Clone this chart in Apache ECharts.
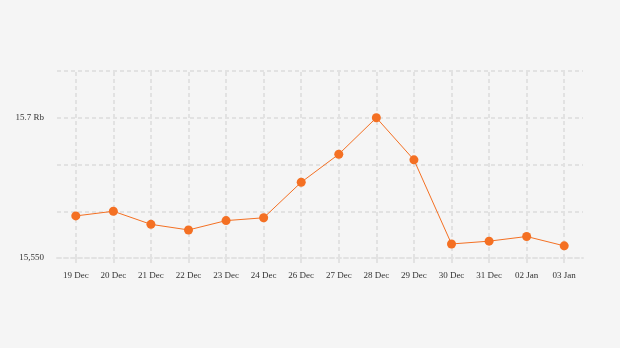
<!DOCTYPE html>
<html><head><meta charset="utf-8">
<script src="https://cdn.jsdelivr.net/npm/echarts@6/dist/echarts.min.js"></script>
<style>html,body{margin:0;padding:0;background:#f5f5f5;}#c{width:620px;height:348px;}</style>
</head><body><div id="c"></div>
<script>
const categories = ['19 Dec','20 Dec','21 Dec','22 Dec','23 Dec','24 Dec','26 Dec','27 Dec','28 Dec','29 Dec','30 Dec','31 Dec','02 Jan','03 Jan'];
const prices = [15595,15600,15586,15580,15590,15593,15631,15661,15700,15655,15565,15568,15573,15563];
const yLabels = {15550:'15,550', 15700:'15.7 Rb'};

const chart = echarts.init(document.getElementById('c'), null, {renderer:'canvas'});
const font = '"Liberation Serif", "DejaVu Serif", serif';
const gridColor = '#e2e2e2';
chart.setOption({
  backgroundColor:'#f5f5f5',
  animation:false,
  grid:{left:57,right:37,top:71,bottom:90},
  xAxis:{
    type:'category', data:categories, boundaryGap:true,
    axisLine:{show:true,lineStyle:{color:gridColor,width:2,type:[4,3]}},
    axisTick:{show:true,alignWithLabel:true,length:5,lineStyle:{color:gridColor,width:2}},
    splitLine:{show:false},
    axisLabel:{color:'#333',fontFamily:font,fontSize:9,margin:13}
  },
  yAxis:{
    type:'value', min:15550, max:15750, interval:50,
    axisLine:{show:false}, axisTick:{show:false},
    splitLine:{show:true,lineStyle:{color:gridColor,width:2,type:[4,3]}},
    axisLabel:{color:'#333',fontFamily:font,fontSize:9,margin:13,
      formatter:v=>yLabels[v]||''}
  },
  series:[{
    type:'line', data:prices, symbol:'circle', symbolSize:9,
    itemStyle:{color:'#f47023'},
    lineStyle:{color:'#f47023',width:1},
    markLine:{silent:true,symbol:'none',label:{show:false},
      lineStyle:{color:gridColor,width:2,type:[4,3]},
      data:categories.map(c=>({xAxis:c}))},
    z:5
  }]
});
</script></body></html>
